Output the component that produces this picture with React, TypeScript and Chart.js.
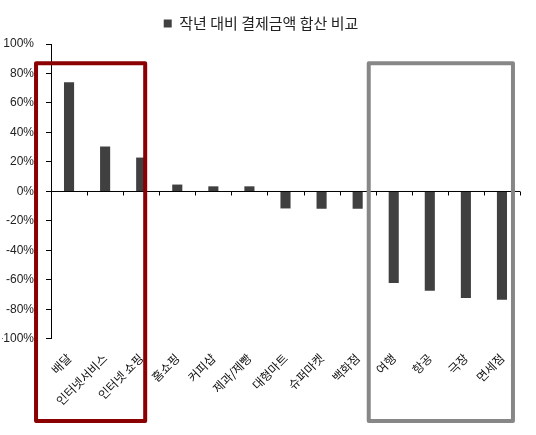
import React, { useEffect, useRef } from 'react';
import { Chart, registerables } from 'chart.js';

Chart.register(...registerables);

const categories = ['배달', '인터넷서비스', '인터넷 쇼핑', '홈쇼핑', '커피샵', '제과/제빵', '대형마트', '슈퍼마켓', '백화점', '여행', '항공', '극장', '면세점'];
const changeValues = [74, 30.5, 23, 4.7, 3.5, 3.5, -11.5, -11.7, -11.7, -62, -67.3, -72.3, -73.4];
const seriesLabel = '작년 대비 결제금액 합산 비교';

// highlight frames: category index ranges
const frames = [
  { from: 0, to: 2, color: '#8b0000', leftPad: 33, rightPad: 4 },
  { from: 9, to: 12, color: '#878787', leftPad: 25, rightPad: 11 },
];

const axisFont = "'Liberation Sans', Arial, sans-serif";
const krFont = "'Noto Sans CJK KR', 'Noto Sans', sans-serif";

// extra space between the legend and the plot area
const legendGapPlugin = {
  id: 'legendGap',
  beforeLayout(chart: any) {
    const lg = chart.legend;
    if (lg && !lg._gapPatched) {
      const fit = lg.fit;
      lg.fit = function () {
        fit.call(this);
        this.height += 3;
      };
      lg._gapPatched = true;
    }
  },
};

const zeroLinePlugin = {
  id: 'zeroLine',
  afterDatasetsDraw(chart: any) {
    const { ctx, chartArea, scales } = chart;
    const y0 = scales.y.getPixelForValue(0);
    const n = categories.length;
    const w = (chartArea.right - chartArea.left) / n;
    ctx.save();
    ctx.strokeStyle = '#000';
    ctx.lineWidth = 1;
    ctx.beginPath();
    ctx.moveTo(chartArea.left, y0);
    ctx.lineTo(chartArea.right, y0);
    for (let i = 1; i <= n; i++) {
      const x = Math.round(chartArea.left + i * w) + 0.5;
      ctx.moveTo(x, y0);
      ctx.lineTo(x, y0 + 4);
    }
    ctx.stroke();
    ctx.restore();
  },
};

const framePlugin = {
  id: 'frames',
  afterDraw(chart: any) {
    const { ctx, scales } = chart;
    const top = scales.y.getPixelForValue(87);
    const bottom = chart.height - 14;
    ctx.save();
    ctx.lineWidth = 4;
    ctx.lineJoin = 'round';
    frames.forEach((f) => {
      const left = scales.x.getPixelForValue(f.from) - f.leftPad;
      const right = scales.x.getPixelForValue(f.to) + f.rightPad;
      ctx.strokeStyle = f.color;
      ctx.strokeRect(left, top, right - left, bottom - top);
    });
    ctx.restore();
  },
};

const App: React.FC = () => {
  const canvasRef = useRef<HTMLCanvasElement>(null);
  const chartRef = useRef<Chart | null>(null);

  useEffect(() => {
    if (chartRef.current) chartRef.current.destroy();
    if (!canvasRef.current) return;

    chartRef.current = new Chart(canvasRef.current, {
      type: 'bar',
      data: {
        labels: categories,
        datasets: [{
          label: seriesLabel,
          data: changeValues,
          backgroundColor: '#404040',
          categoryPercentage: 1,
          barPercentage: 0.28,
        }],
      },
      options: {
        responsive: true,
        maintainAspectRatio: false,
        animation: false,
        layout: { autoPadding: false, padding: { left: 2, right: 16, top: -2, bottom: 23 } },
        plugins: {
          legend: {
            display: true,
            position: 'top',
            labels: {
              boxWidth: 8,
              boxHeight: 8,
              padding: 18,
              color: '#222',
              font: { family: krFont, size: 15 },
            },
          },
          tooltip: { enabled: false },
        },
        scales: {
          x: {
            grid: { display: false },
            border: { display: false },
            afterFit: (scale: any) => {
              scale.paddingLeft = 0;
              scale.paddingRight = 0;
            },
            ticks: {
              maxRotation: 45,
              minRotation: 45,
              padding: 4,
              color: '#111',
              font: { family: krFont, size: 12 },
            },
          },
          y: {
            min: -100,
            max: 100,
            afterFit: (scale: any) => {
              scale.width = 49;
            },
            grid: {
              drawOnChartArea: false,
              drawTicks: true,
              tickLength: 5,
              color: '#000',
            },
            border: { display: true, color: '#000', width: 1 },
            ticks: {
              stepSize: 20,
              padding: 12,
              color: '#222',
              font: { family: axisFont, size: 12 },
              callback: (v: any) => `${v}%`,
            },
          },
        },
      },
      plugins: [legendGapPlugin, zeroLinePlugin, framePlugin],
    });

    return () => {
      if (chartRef.current) {
        chartRef.current.destroy();
        chartRef.current = null;
      }
    };
  }, []);

  return (
    <div style={{ position: 'fixed', left: 0, top: 0, width: 536, height: 435, background: '#fff' }}>
      <canvas ref={canvasRef}></canvas>
    </div>
  );
};

export default App;
